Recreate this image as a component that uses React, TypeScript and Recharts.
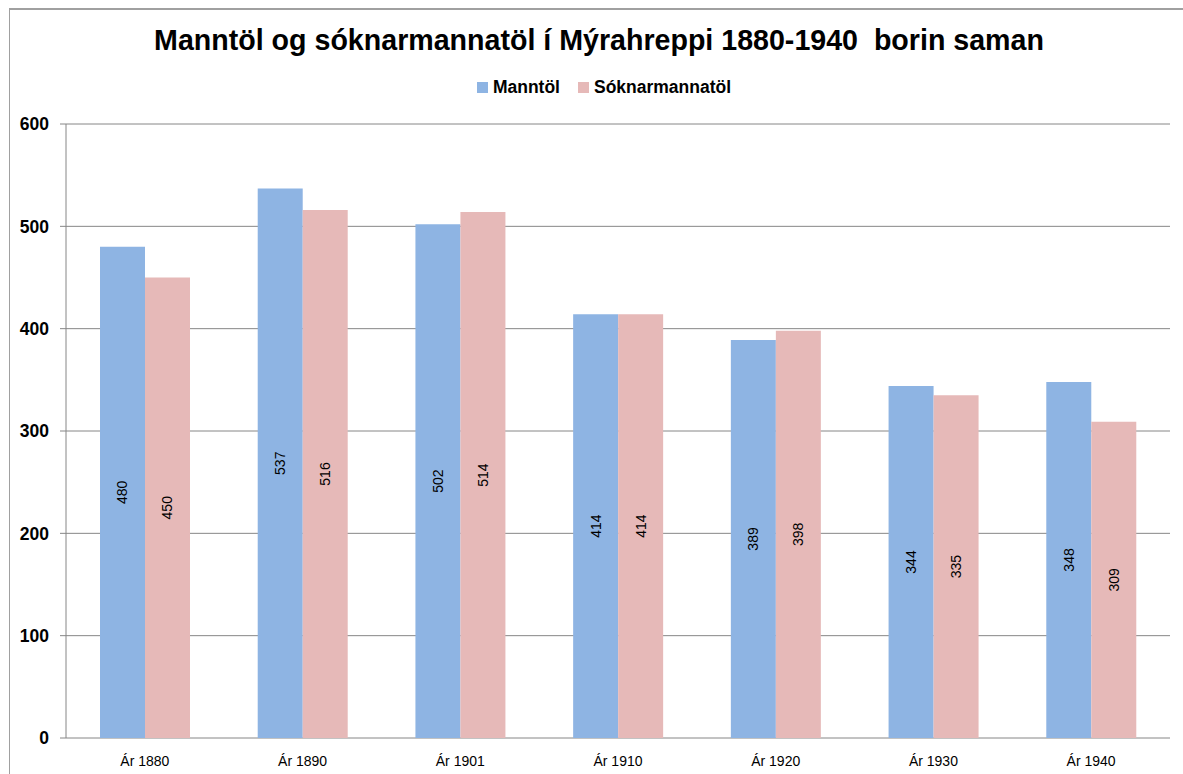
import React from "react"
import {
    BarChart,
    Bar,
    XAxis,
    YAxis,
    CartesianGrid,
    LabelList
} from "recharts"

// Census years
const years = ["Ár 1880", "Ár 1890", "Ár 1901", "Ár 1910", "Ár 1920", "Ár 1930", "Ár 1940"]
// Manntöl values
const manntol = [480, 537, 502, 414, 389, 344, 348]
// Sóknarmannatöl values
const soknarmannatol = [450, 516, 514, 414, 398, 335, 309]
const yTicks = [0, 100, 200, 300, 400, 500, 600]
const boundaryTicks = [0, 1, 2, 3, 4, 5, 6, 7]

const BLUE = "#8EB4E3"
const PINK = "#E6B9B8"
const GRID = "#868686"
const FONT = "'Liberation Sans', Arial, sans-serif"

const data = years.map((year, i) => ({
    year,
    idx: i + 0.5,
    manntol: manntol[i],
    soknarmannatol: soknarmannatol[i],
}))

function LegendItem({ color, label }: { color: string; label: string }) {
    return (
        <div style={{ display: "flex", alignItems: "center", marginRight: 18 }}>
            <div style={{ width: 11, height: 11, background: color, marginRight: 5 }} />
            <span>{label}</span>
        </div>
    )
}

export default function App() {
    return (
        <div style={{ position: "absolute", left: 0, top: 0, width: 1183, height: 774, background: "#fff", overflow: "hidden", fontFamily: FONT }}>
            <div style={{ position: "absolute", left: 9, top: 8, width: 1200, height: 800, borderLeft: "1px solid #A0A0A0", borderTop: "2px solid #A0A0A0" }} />
            <div style={{ position: "absolute", left: 0, top: 24, width: 1198, textAlign: "center", fontSize: 28.6, fontWeight: "bold", color: "#000" }}>
                Manntöl og sóknarmannatöl í Mýrahreppi 1880-1940&nbsp; borin saman
            </div>
            <div style={{ position: "absolute", left: 0, top: 77, width: 1226, display: "flex", justifyContent: "center", fontSize: 17.5, fontWeight: "bold", color: "#000" }}>
                <LegendItem color={BLUE} label="Manntöl" />
                <LegendItem color={PINK} label="Sóknarmannatöl" />
            </div>
            <div style={{ position: "absolute", left: 0, top: 0 }}>
                <BarChart
                    width={1183}
                    height={774}
                    data={data}
                    margin={{ top: 124, right: 13, left: 10, bottom: 6 }}
                    barCategoryGap={34}
                    barGap={0}
                >
                    <CartesianGrid vertical={false} stroke={GRID} />
                    <XAxis
                        xAxisId="edges"
                        type="number"
                        dataKey="idx"
                        domain={[0, 7]}
                        ticks={boundaryTicks}
                        tick={false}
                        height={0}
                        axisLine={{ stroke: GRID }}
                        tickLine={{ stroke: GRID }}
                        tickSize={6}
                    />
                    <XAxis
                        dataKey="year"
                        height={30}
                        axisLine={false}
                        tickLine={false}
                        tick={{ fill: "#000", fontSize: 14, fontFamily: FONT }}
                        tickMargin={12}
                    />
                    <YAxis
                        width={56}
                        domain={[0, 600]}
                        ticks={yTicks}
                        axisLine={{ stroke: GRID }}
                        tickLine={{ stroke: GRID }}
                        tickSize={6}
                        tickMargin={11}
                        tick={{ fill: "#000", fontSize: 17.5, fontWeight: "bold", fontFamily: FONT }}
                    />
                    <Bar dataKey="manntol" xAxisId={0} fill={BLUE} isAnimationActive={false}>
                        <LabelList dataKey="manntol" position="center" angle={-90} fill="#000" fontSize={14} fontFamily={FONT} />
                    </Bar>
                    <Bar dataKey="soknarmannatol" xAxisId={0} fill={PINK} isAnimationActive={false}>
                        <LabelList dataKey="soknarmannatol" position="center" angle={-90} fill="#000" fontSize={14} fontFamily={FONT} />
                    </Bar>
                </BarChart>
            </div>
        </div>
    )
}
